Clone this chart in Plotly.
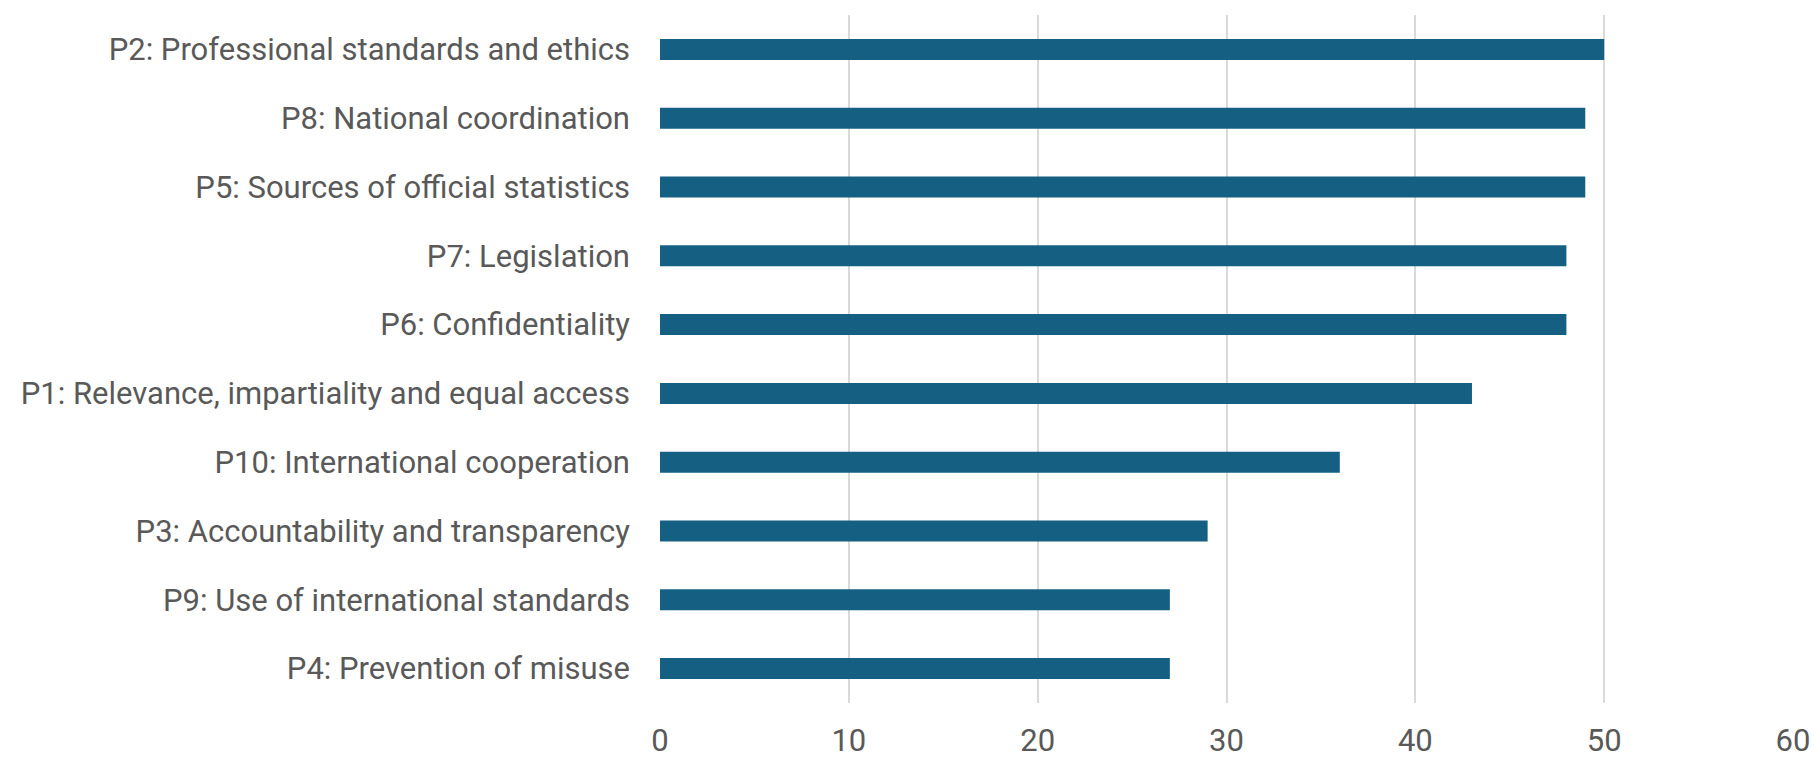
import plotly.graph_objects as go

categories = [
    "P2: Professional standards and ethics",
    "P8: National coordination",
    "P5: Sources of official statistics",
    "P7: Legislation",
    "P6: Confidentiality",
    "P1: Relevance, impartiality and equal access",
    "P10: International cooperation",
    "P3: Accountability and transparency",
    "P9: Use of international standards",
    "P4: Prevention of misuse",
]
values = [50, 49, 49, 48, 48, 43, 36, 29, 27, 27]
x_ticks = [0, 10, 20, 30, 40, 50, 60]

fig = go.Figure(go.Bar(
    y=categories, x=values, orientation="h",
    marker=dict(color="#156082", line=dict(width=0)),
))

fig.update_layout(
    width=1814, height=758,
    margin=dict(l=660, r=21, t=15, b=55, autoexpand=False),
    paper_bgcolor="white", plot_bgcolor="white",
    bargap=0.695,
    showlegend=False,
    font=dict(family="Roboto", size=31, color="#595959"),
)
fig.update_xaxes(
    range=[0, 60], tickvals=x_ticks, showgrid=True, gridcolor="#D9D9D9",
    gridwidth=1.5, zeroline=False, showline=False, ticks="", automargin=False,
    ticklabelstandoff=16, tickfont=dict(size=31, color="#595959"),
)
fig.update_yaxes(
    autorange="reversed", showgrid=False, zeroline=False, showline=False,
    ticks="", automargin=False, ticklabelstandoff=29,
    tickfont=dict(size=31, color="#595959"),
)

# remove the default page margin so the figure fills the window exactly
fig.write_html(
    "out.html",
    config={"displayModeBar": False},
    post_script="document.body.style.margin='0';"
                "document.documentElement.style.overflow='hidden';",
)
